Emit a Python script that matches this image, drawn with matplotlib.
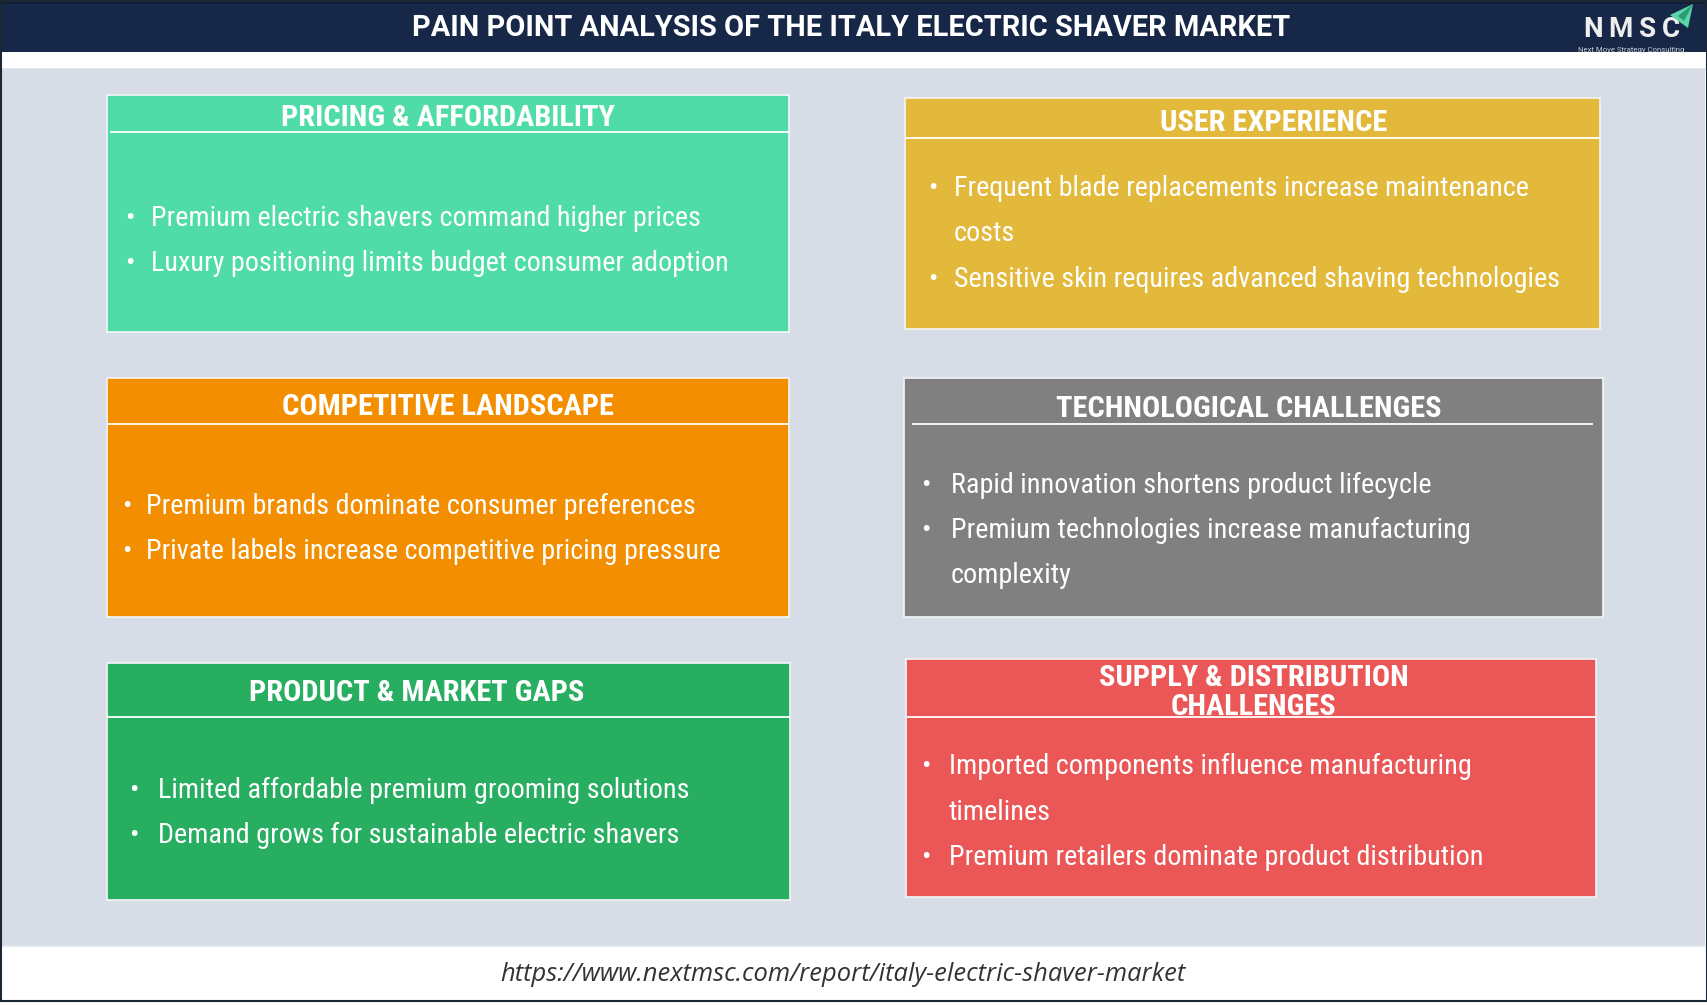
import matplotlib
matplotlib.use("Agg")
import matplotlib.pyplot as plt
from matplotlib import font_manager as fm
from matplotlib.patches import Rectangle, Polygon

# ---------------- data ----------------
chart_title = "PAIN POINT ANALYSIS OF THE ITALY ELECTRIC SHAVER MARKET"
source_url = "https://www.nextmsc.com/report/italy-electric-shaver-market"
logo_letters = ["N", "M", "S", "C"]
logo_sub = "Next Move Strategy Consulting"

box_titles = [
    "PRICING & AFFORDABILITY",
    "USER EXPERIENCE",
    "COMPETITIVE LANDSCAPE",
    "TECHNOLOGICAL CHALLENGES",
    "PRODUCT & MARKET GAPS",
    "SUPPLY & DISTRIBUTION\nCHALLENGES",
]
box_bullets = [
    ["Premium electric shavers command higher prices",
     "Luxury positioning limits budget consumer adoption"],
    ["Frequent blade replacements increase maintenance\ncosts",
     "Sensitive skin requires advanced shaving technologies"],
    ["Premium brands dominate consumer preferences",
     "Private labels increase competitive pricing pressure"],
    ["Rapid innovation shortens product lifecycle",
     "Premium technologies increase manufacturing\ncomplexity"],
    ["Limited affordable premium grooming solutions",
     "Demand grows for sustainable electric shavers"],
    ["Imported components influence manufacturing\ntimelines",
     "Premium retailers dominate product distribution"],
]

# ---------------- styles / layout (pixel coordinates) ----------------
box_colors = ["#50dca8", "#e2b93b", "#f28e00", "#808080", "#27ae60", "#eb5757"]
box_layout = [
    dict(x0=107.5, y0=95.0, x1=788.6, y1=332.0, ly=132.2, lx0=110, lx1=788.6,
         tcx=447.5, tcy=115.5, bx=130.0, tx=151.4, fy=216.6),
    dict(x0=905.4, y0=97.7, x1=1600.0, y1=329.0, ly=138.3, lx0=905.4, lx1=1600.0,
         tcx=1273.5, tcy=120.0, bx=933.0, tx=953.8, fy=186.6),
    dict(x0=107.5, y0=378.0, x1=788.6, y1=616.5, ly=423.7, lx0=107.5, lx1=788.6,
         tcx=447.7, tcy=404.3, bx=127.0, tx=146.0, fy=504.3),
    dict(x0=904.5, y0=378.3, x1=1603.0, y1=616.7, ly=424.0, lx0=912.0, lx1=1592.6,
         tcx=1248.6, tcy=406.7, bx=925.8, tx=950.8, fy=483.3),
    dict(x0=107.4, y0=662.7, x1=790.2, y1=900.0, ly=717.3, lx0=107.4, lx1=790.2,
         tcx=416.7, tcy=690.5, bx=133.6, tx=158.0, fy=788.3),
    dict(x0=905.8, y0=659.3, x1=1595.8, y1=896.5, ly=717.3, lx0=907.0, lx1=1595.8,
         tcx=1253.6, tcy=675.0, bx=926.3, tx=948.7, fy=765.0),
]
line_step = 45.3
title_line_step = 29.3
text_dy = 1.8      # optical correction for va='center'
head_dy = 2.5

W, H = 1708, 1005


def first_font(names):
    for n in names:
        try:
            fm.findfont(fm.FontProperties(family=n), fallback_to_default=False)
            return n
        except Exception:
            continue
    return "DejaVu Sans"


body_font = first_font(["Roboto Condensed", "Liberation Sans Narrow", "Roboto"])
head_font = body_font
title_font = first_font(["Roboto", "Liberation Sans", "DejaVu Sans"])
url_font = first_font(["Open Sans", "Liberation Sans", "DejaVu Sans"])

fig = plt.figure(figsize=(W / 100, H / 100), dpi=100)
ax = fig.add_axes([0, 0, 1, 1])
ax.set_xlim(0, W)
ax.set_ylim(H, 0)
ax.axis("off")
renderer = fig.canvas.get_renderer()


def text_width(text, size, **kw):
    t = ax.text(0, 0, text, fontsize=size, **kw)
    w = t.get_window_extent(renderer=renderer).width
    t.remove()
    return w


def fit_size(text, target_w, **kw):
    return 20 * target_w / text_width(text, 20, **kw)


# background
ax.add_patch(Rectangle((0, 0), W, H, facecolor="white", edgecolor="none", zorder=0))
ax.add_patch(Rectangle((0, 0), W, 52, facecolor="#172747", edgecolor="none", zorder=1))
ax.add_patch(Rectangle((0, 0), W, 4, facecolor="#0f1d36", edgecolor="none", zorder=1))
ax.add_patch(Rectangle((0, 67.5), W, 1.5, facecolor="#e3e6ea", edgecolor="none", zorder=1))
ax.add_patch(Rectangle((2, 69), W - 5, 876, facecolor="#d6dde6", edgecolor="none", zorder=1))
ax.add_patch(Rectangle((2, 945), W - 5, 2, facecolor="#e6e9ee", edgecolor="none", zorder=1))
ax.add_patch(Rectangle((0.75, 0.75), W - 1.5, H - 4.5, facecolor="none",
                       edgecolor="#1b2733", lw=1.5, zorder=2))

# title
ts = fit_size(chart_title, 875, family=title_font, weight="bold")
ax.text(851, 26.5 + text_dy, chart_title, fontsize=ts, family=title_font, weight="bold",
        color="white", ha="center", va="center", zorder=5)

# logo: letters spread evenly across 1583..1680
logo_size = 20
widths = [text_width(c, logo_size, family=title_font, weight="bold") for c in logo_letters]
gap = (97 - sum(widths)) / (len(logo_letters) - 1)
lx = 1583.0
for ch, w in zip(logo_letters, widths):
    ax.text(lx, 28.0 + text_dy, ch, fontsize=logo_size, family=title_font, weight="bold",
            color="#eeeeee", ha="left", va="center", zorder=5)
    lx += w + gap
ax.add_patch(Polygon([[1670, 15], [1693, 4], [1688, 28]], closed=True,
                     facecolor="#5ad6a8", edgecolor="none", zorder=6))
ax.add_patch(Polygon([[1678, 16], [1693, 4], [1684, 21]], closed=True,
                     facecolor="#2f9c78", edgecolor="none", zorder=6))
ax.text(1631, 49.5, logo_sub, fontsize=5.6, family=title_font, color="#c8ccd4",
        ha="center", va="center", zorder=5)

# boxes
hs = fit_size(box_titles[0], 335, family=head_font, weight="bold")
bs = fit_size(box_bullets[0][0], 549, family=body_font)

for title, bullets, color, L in zip(box_titles, box_bullets, box_colors, box_layout):
    ax.add_patch(Rectangle((L["x0"], L["y0"]), L["x1"] - L["x0"], L["y1"] - L["y0"],
                           facecolor=color, edgecolor="#f4f6f8", lw=1.2, zorder=3))
    ax.plot([L["lx0"], L["lx1"]], [L["ly"], L["ly"]], color="white", lw=1.3,
            solid_capstyle="butt", zorder=4)
    for k, tl in enumerate(title.split("\n")):
        ax.text(L["tcx"], L["tcy"] + k * title_line_step + head_dy, tl, fontsize=hs,
                family=head_font, weight="bold", color="white",
                ha="center", va="center", zorder=5)
    y = L["fy"] + text_dy
    for b in bullets:
        ax.text(L["bx"], y, "\u2022", fontsize=bs, family=body_font, color="white",
                ha="center", va="center", zorder=5)
        for ln in b.split("\n"):
            ax.text(L["tx"], y, ln, fontsize=bs, family=body_font, color="white",
                    ha="left", va="center", zorder=5)
            y += line_step

# footer url
us = fit_size(source_url, 684, family=url_font, style="italic")
ax.text(843, 972.5 + text_dy, source_url, fontsize=us, family=url_font, style="italic",
        color="#333333", ha="center", va="center", zorder=5)

fig.savefig("out.png", dpi=100)
